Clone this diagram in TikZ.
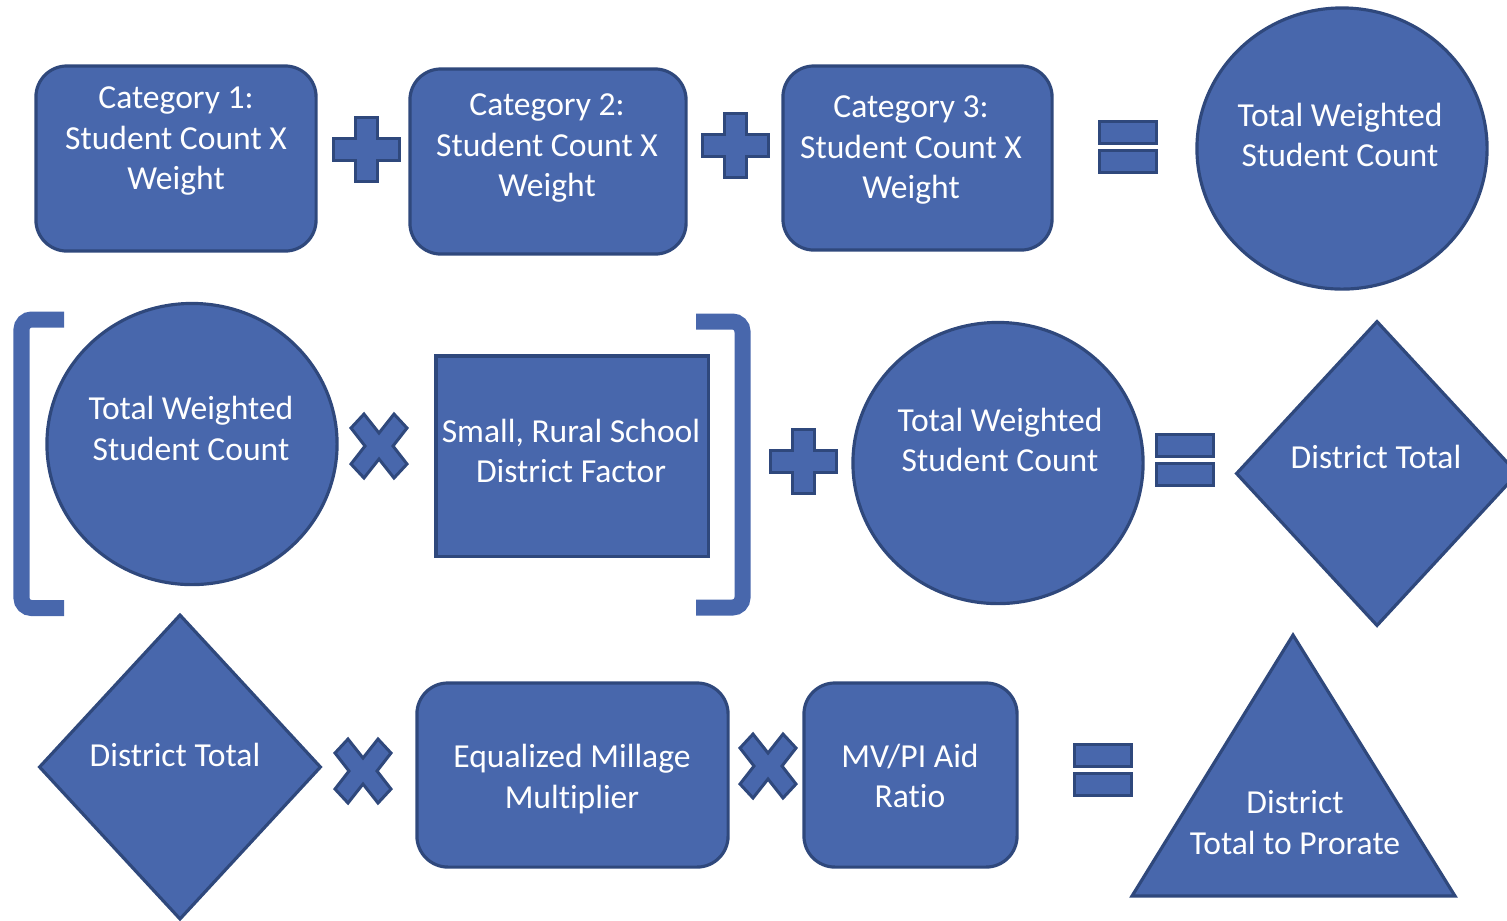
\documentclass[tikz,border=0pt]{standalone}
\usepackage{fontspec}
\setmainfont{Carlito}[Ligatures=NoCommon]
\usetikzlibrary{shapes.geometric}
\definecolor{boxblue}{RGB}{72,103,172}
\definecolor{boxedge}{RGB}{47,72,124}
\begin{document}
\begin{tikzpicture}[x=0.01cm,y=-0.01cm,
  shp/.style={draw=boxedge,fill=boxblue,line width=0.9pt,inner sep=0pt},
  rbox/.style={shp,rectangle,rounded corners=0.31cm},
  sbox/.style={shp,rectangle},
  circ/.style={shp,ellipse,minimum width=2.9cm,minimum height=2.81cm},
  dmd/.style={shp,diamond,minimum width=2.82cm,minimum height=3.05cm},
  txt/.style={text=white,align=center,font=\fontsize{9.55pt}{11.5pt}\selectfont},
  opshape/.style={draw=boxedge,fill=boxblue,line width=0.85pt,line join=miter},
  brk/.style={draw=boxblue,line width=0.16cm,rounded corners=0.1cm},
  plusop/.pic={\draw[opshape] (-11,-32) -- (11,-32) -- (11,-11) -- (33,-11) -- (33,11) -- (11,11)
     -- (11,32) -- (-11,32) -- (-11,11) -- (-33,11) -- (-33,-11) -- (-11,-11) -- cycle;},
  timesop/.pic={\draw[opshape] (0,-13) -- (15,-32) -- (28,-18) -- (14,0) -- (28,18) -- (15,32)
     -- (0,13) -- (-15,32) -- (-28,18) -- (-14,0) -- (-28,-18) -- (-15,-32) -- cycle;},
  equalop/.pic={\draw[opshape] (-28.5,-25.5) rectangle (28.5,-3.5);
     \draw[opshape] (-28.5,3.5) rectangle (28.5,25.5);}]
\useasboundingbox (0,0) rectangle (1507,920);
\clip (0,0) rectangle (1507,920);
% first row
\node[rbox,minimum width=2.8cm,minimum height=1.85cm] (cat1) at (176,158.5) {};
\node[txt] (cat1txt) at (176,141) {Category 1:\\Student Count X\\Weight};
\pic at (366,149) {plusop};
\node[rbox,minimum width=2.76cm,minimum height=1.85cm] (cat2) at (548,161.5) {};
\node[txt] (cat2txt) at (547,148) {Category 2:\\Student Count X\\Weight};
\pic at (735,145) {plusop};
\node[rbox,minimum width=2.69cm,minimum height=1.84cm] (cat3) at (917.5,158) {};
\node[txt] (cat3txt) at (911,150) {Category 3:\\Student Count X\\Weight};
\pic at (1127.5,147) {equalop};
\node[circ] (total1) at (1342,148.5) {};
\node[txt] (total1txt) at (1340,135) {Total Weighted\\Student Count};
% second row
\draw[brk] (64,319.5) -- (21.5,319.5) -- (21.5,608) -- (64,608);
\node[circ] (total2) at (192,444) {};
\node[txt] (total2txt) at (191,428.5) {Total Weighted\\Student Count};
\pic at (379,446) {timesop};
\node[sbox,minimum width=2.72cm,minimum height=2cm] (factor) at (572,456) {};
\node[txt] (factortxt) at (571,451) {Small, Rural School\\District Factor};
\draw[brk] (696,321.5) -- (742.5,321.5) -- (742.5,607.5) -- (696,607.5);
\pic at (803,461) {plusop};
\node[circ] (total3) at (998,463) {};
\node[txt] (total3txt) at (1000,440) {Total Weighted\\Student Count};
\pic at (1184.5,459.5) {equalop};
\node[dmd] (dist1) at (1377,473.5) {};
\node[txt] (dist1txt) at (1376,457) {District Total};
% third row
\node[dmd] (dist2) at (180,767) {};
\node[txt] (dist2txt) at (175,755) {District Total};
\pic at (363,771) {timesop};
\node[rbox,minimum width=3.11cm,minimum height=1.84cm] (millage) at (572.5,775) {};
\node[txt] (millagetxt) at (572,779) {Equalized Millage\\Multiplier};
\pic at (768,766) {timesop};
\node[rbox,minimum width=2.13cm,minimum height=1.84cm] (aid) at (910.5,775) {};
\node[txt] (aidtxt) at (910,776) {MV/PI Aid\\Ratio};
\pic at (1102.5,769.5) {equalop};
\draw[shp] (1293,635) -- (1455,896) -- (1132,896) -- cycle;
\node[txt] (proratetxt) at (1295,822.5) {District\\Total to Prorate};
\end{tikzpicture}
\end{document}
